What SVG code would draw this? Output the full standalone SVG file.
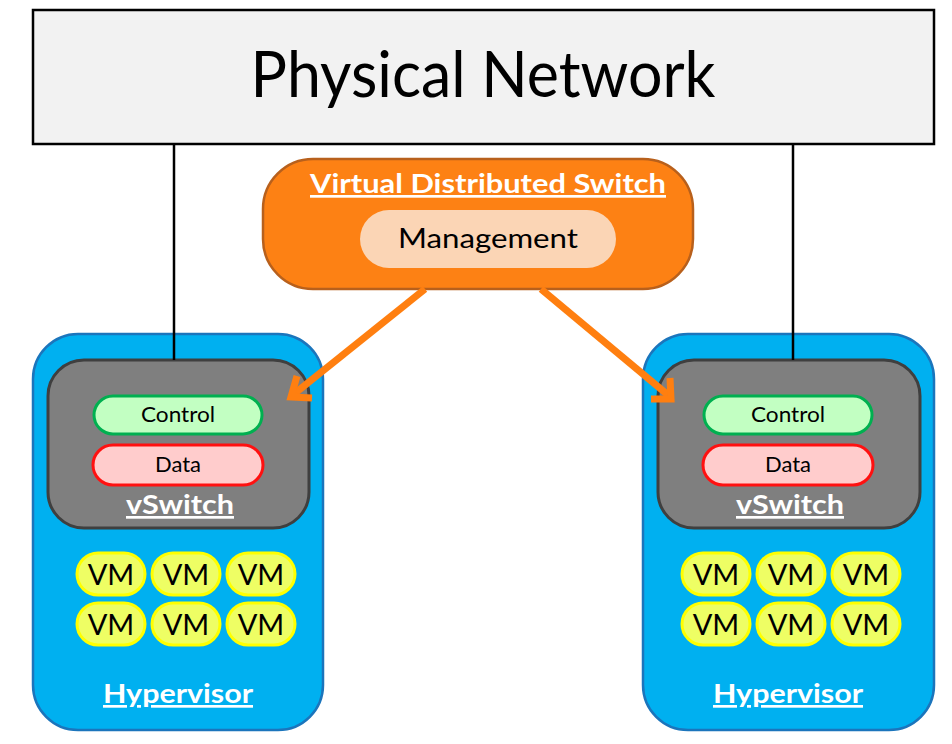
<svg xmlns="http://www.w3.org/2000/svg" width="952" height="744" viewBox="0 0 952 744">
<defs>
<style>
text{font-family:"Lato","Open Sans","Liberation Sans",sans-serif;text-anchor:middle}
.hv{fill:#00b0f0;stroke:#1b75bc;stroke-width:2.5}
.vs{fill:#7f7f7f;stroke:#3f3f3f;stroke-width:3}
.ctl{fill:#c2ffc2;stroke:#00b050;stroke-width:3}
.dat{fill:#ffcccc;stroke:#ff1010;stroke-width:3}
.vm{fill:#eefe64;stroke:#ffff00;stroke-width:3}
.wt{fill:#ffffff;font-weight:bold;text-decoration:underline;font-size:27px}
.bt{fill:#000000}
.vmt{fill:#000000;font-size:29px}
.arr{fill:none;stroke:#ff7f10;stroke-width:7;stroke-linecap:butt;stroke-linejoin:miter}
</style>
</defs>
<rect width="952" height="744" fill="#ffffff"/>
<g id="physical-network">
<rect x="33" y="10" width="901" height="134" fill="#f2f2f2" stroke="#000" stroke-width="2.5"/>
<text x="483" y="97" class="bt" font-size="64" textLength="465" lengthAdjust="spacingAndGlyphs">Physical Network</text>
</g>
<g id="vds">
<rect x="263" y="159" width="430" height="130" rx="50" fill="#fd8114" stroke="#b8601c" stroke-width="2.5"/>
<text x="488" y="193" class="wt" textLength="356" lengthAdjust="spacingAndGlyphs">Virtual Distributed Switch</text>
</g>
<g id="management">
<rect x="360" y="210" width="256" height="58" rx="29" fill="#fbd5b5"/>
<text x="488" y="248" class="bt" font-size="26" textLength="180" lengthAdjust="spacingAndGlyphs">Management</text>
</g>
<g id="hypervisor-left">
<rect x="33" y="334" width="290" height="396" rx="45" class="hv"/>
<text x="178" y="703" class="wt" textLength="150" lengthAdjust="spacingAndGlyphs">Hypervisor</text>
</g>
<g id="vswitch-left">
<rect x="48" y="360" width="261" height="168" rx="36" class="vs"/>
<text x="180" y="514" class="wt" textLength="108" lengthAdjust="spacingAndGlyphs">vSwitch</text>
</g>
<g id="control-left">
<rect x="94" y="396" width="168" height="38" rx="19" class="ctl"/>
<text x="178" y="422" class="bt" font-size="21" textLength="74" lengthAdjust="spacingAndGlyphs">Control</text>
</g>
<g id="data-left">
<rect x="93" y="445" width="170" height="40" rx="20" class="dat"/>
<text x="178" y="472" class="bt" font-size="21" textLength="46" lengthAdjust="spacingAndGlyphs">Data</text>
</g>
<g id="vms-left">
<rect x="77" y="553" width="68" height="42" rx="21" class="vm"/>
<rect x="152" y="553" width="68" height="42" rx="21" class="vm"/>
<rect x="227" y="553" width="68" height="42" rx="21" class="vm"/>
<rect x="77" y="603" width="68" height="42" rx="21" class="vm"/>
<rect x="152" y="603" width="68" height="42" rx="21" class="vm"/>
<rect x="227" y="603" width="68" height="42" rx="21" class="vm"/>
<text x="111" y="585" class="vmt">VM</text>
<text x="186" y="585" class="vmt">VM</text>
<text x="261" y="585" class="vmt">VM</text>
<text x="111" y="635" class="vmt">VM</text>
<text x="186" y="635" class="vmt">VM</text>
<text x="261" y="635" class="vmt">VM</text>
</g>
<g id="hypervisor-right">
<rect x="643" y="334" width="291" height="396" rx="45" class="hv"/>
<text x="788" y="703" class="wt" textLength="150" lengthAdjust="spacingAndGlyphs">Hypervisor</text>
</g>
<g id="vswitch-right">
<rect x="658" y="360" width="262" height="168" rx="36" class="vs"/>
<text x="790" y="514" class="wt" textLength="108" lengthAdjust="spacingAndGlyphs">vSwitch</text>
</g>
<g id="control-right">
<rect x="704" y="396" width="168" height="38" rx="19" class="ctl"/>
<text x="788" y="422" class="bt" font-size="21" textLength="74" lengthAdjust="spacingAndGlyphs">Control</text>
</g>
<g id="data-right">
<rect x="703" y="445" width="170" height="40" rx="20" class="dat"/>
<text x="788" y="472" class="bt" font-size="21" textLength="46" lengthAdjust="spacingAndGlyphs">Data</text>
</g>
<g id="vms-right">
<rect x="682" y="553" width="68" height="42" rx="21" class="vm"/>
<rect x="757" y="553" width="68" height="42" rx="21" class="vm"/>
<rect x="832" y="553" width="68" height="42" rx="21" class="vm"/>
<rect x="682" y="603" width="68" height="42" rx="21" class="vm"/>
<rect x="757" y="603" width="68" height="42" rx="21" class="vm"/>
<rect x="832" y="603" width="68" height="42" rx="21" class="vm"/>
<text x="716" y="585" class="vmt">VM</text>
<text x="791" y="585" class="vmt">VM</text>
<text x="866" y="585" class="vmt">VM</text>
<text x="716" y="635" class="vmt">VM</text>
<text x="791" y="635" class="vmt">VM</text>
<text x="866" y="635" class="vmt">VM</text>
</g>
<g id="connectors">
<line x1="174" y1="144" x2="174" y2="360" stroke="#000" stroke-width="2.5"/>
<line x1="793" y1="144" x2="793" y2="360" stroke="#000" stroke-width="2.5"/>
<path class="arr" d="M425,289 L294,394"/>
<path class="arr" d="M297,376 L291,397 L312,398"/>
<path class="arr" d="M541,289 L668,395"/>
<path class="arr" d="M670,378 L671,399 L651,399"/>
</g>
</svg>
